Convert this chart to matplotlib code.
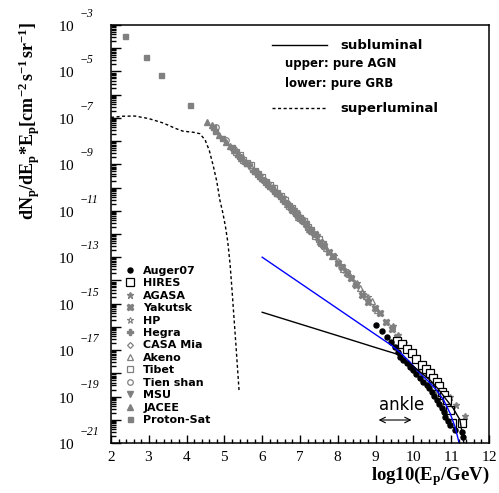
import numpy as np
import matplotlib
matplotlib.use('Agg')
import matplotlib.pyplot as plt
import matplotlib.transforms as mtransforms
from matplotlib.ticker import FixedLocator, FuncFormatter, MultipleLocator, NullFormatter

plt.rcParams['mathtext.fontset'] = 'custom'
plt.rcParams['mathtext.rm'] = 'Liberation Serif'
plt.rcParams['mathtext.it'] = 'Liberation Serif:italic'
plt.rcParams['mathtext.bf'] = 'Liberation Serif:bold'

# ---------------- data (log10 E [GeV], log10 flux) ----------------
proton_sat_x = [2.37, 2.92, 3.32, 4.10, 4.71, 4.75, 4.93, 5.19]
proton_sat_y = [-3.46, -4.39, -5.16, -6.46, -7.38, -7.55, -7.85, -8.24]

jacee_x = [4.55, 4.66, 4.87, 5.05, 5.15, 5.25, 5.35, 5.45]
jacee_y = [-7.16, -7.30, -7.74, -8.05, -8.20, -8.38, -8.52, -8.72]

tienshan_x = [4.78, 5.04, 5.25, 5.45, 5.65, 5.85, 6.05, 6.25, 6.45, 6.65, 6.85, 7.05, 7.25]
tienshan_y = [-7.38, -7.95, -8.36, -8.70, -9.00, -9.38, -9.66, -10.05, -10.32, -10.66,
              -11.05, -11.38, -11.78]

msu_x = [5.80, 5.95, 6.10, 6.25, 6.40, 6.55, 6.70, 6.85, 7.00, 7.15, 7.30, 7.45]
msu_y = [-9.34, -9.55, -9.80, -10.02, -10.28, -10.50, -10.82, -11.00, -11.34, -11.55,
         -11.90, -12.12]

tibet_x = [5.3, 5.4, 5.5, 5.6, 5.7, 5.8, 5.9, 6.0, 6.1, 6.2, 6.3, 6.4, 6.5, 6.6, 6.7, 6.8,
           6.9, 7.0, 7.1, 7.2, 7.3, 7.4, 7.5, 7.6]
tibet_y = [-8.45, -8.58, -8.80, -8.93, -9.05, -9.29, -9.42, -9.53, -9.77, -9.90, -10.02,
           -10.25, -10.36, -10.55, -10.78, -10.90, -11.08, -11.32, -11.44, -11.70, -11.83,
           -12.08, -12.20, -12.45]

akeno_x = [6.50, 6.65, 6.80, 6.95, 7.10, 7.25, 7.40, 7.55, 7.70, 7.85, 8.00, 8.15, 8.30,
           8.45, 8.60, 8.75, 8.90, 9.05]
akeno_y = [-10.36, -10.70, -10.90, -11.25, -11.44, -11.80, -12.02, -12.38, -12.60, -12.95,
           -13.16, -13.52, -13.74, -14.10, -14.32, -14.68, -14.90, -15.26]

casa_x = [5.40, 5.55, 5.70, 5.85, 6.00, 6.15, 6.30, 6.45, 6.60, 6.75, 6.90, 7.05, 7.20,
          7.35]
casa_y = [-8.70, -8.90, -9.16, -9.34, -9.66, -9.82, -10.12, -10.32, -10.62, -10.82, -11.18,
          -11.38, -11.72, -11.95]

hegra_x = [5.25, 5.35, 5.45, 5.55, 5.65, 5.75, 5.85, 5.95, 6.05, 6.15, 6.25, 6.35, 6.45,
           6.55, 6.65, 6.75, 6.85, 6.95, 7.05]
hegra_y = [-8.40, -8.63, -8.74, -8.96, -9.05, -9.28, -9.38, -9.60, -9.70, -9.92, -10.02,
           -10.24, -10.33, -10.56, -10.66, -10.92, -11.02, -11.28, -11.40]

hp_x = [7.00, 7.15, 7.30, 7.45, 7.60, 7.75, 7.90, 8.05, 8.20, 8.35, 8.50, 8.65, 8.80]
hp_y = [-11.22, -11.58, -11.80, -12.15, -12.40, -12.76, -12.96, -13.34, -13.55, -13.90,
        -14.12, -14.50, -14.72]

yakutsk_x = [6.80, 6.92, 7.04, 7.16, 7.28, 7.40, 7.52, 7.64, 7.76, 7.88, 8.00, 8.12, 8.24,
             8.36, 8.48, 8.63, 8.81, 8.98, 9.12, 9.28, 9.43, 9.56]
yakutsk_y = [-10.98, -11.12, -11.40, -11.58, -11.85, -12.02, -12.33, -12.50, -12.78, -12.96,
             -13.26, -13.42, -13.70, -13.88, -14.18, -14.63, -14.92, -15.20, -15.42, -15.78,
             -16.09, -16.45]

agasa_x = [9.45, 9.60, 9.75, 9.90, 10.05, 10.20, 10.35, 10.50, 10.65, 10.80, 10.97, 11.14,
           11.37]
agasa_y = [-15.95, -16.35, -16.70, -17.05, -17.40, -17.72, -18.05, -18.38, -18.70, -19.05,
           -19.00, -19.37, -19.85]

hires_x = [9.56, 9.69, 9.82, 9.95, 10.08, 10.22, 10.33, 10.44, 10.53, 10.62, 10.69, 10.75,
           10.82, 10.88, 10.97, 11.01, 11.28]
hires_y = [-16.60, -16.74, -16.95, -17.14, -17.40, -17.64, -17.82, -18.00, -18.18, -18.36,
           -18.55, -18.79, -18.95, -19.15, -19.58, -20.12, -20.15]

auger_x = [9.02, 9.16, 9.29, 9.40, 9.51, 9.58, 9.65, 9.73, 9.82, 9.91, 10.00, 10.08, 10.17,
           10.26, 10.35, 10.42, 10.48, 10.55, 10.62, 10.68, 10.75, 10.80, 10.84, 10.91, 10.97,
           11.10, 11.28, 11.32]
auger_y = [-15.92, -16.16, -16.42, -16.65, -16.85, -17.07, -17.28, -17.42, -17.57, -17.72,
           -17.86, -18.03, -18.21, -18.36, -18.50, -18.63, -18.79, -18.97, -19.15, -19.33,
           -19.51, -19.68, -19.87, -20.05, -20.23, -20.44, -20.51, -20.73]

# model curves
agn_x = [6.0, 7.0, 8.0, 9.0, 9.4, 9.65, 9.9, 10.17, 10.4, 10.61, 10.8, 10.97, 11.1, 11.19, 11.22]
agn_y = [-13.0, -14.11, -15.22, -16.33, -16.77, -17.10, -17.50, -18.00, -18.35, -18.72,
         -19.15, -19.72, -20.30, -20.87, -21.10]

grb_x = [6.0, 7.0, 8.0, 9.0, 9.56, 9.8, 10.0, 10.2, 10.44, 10.66, 10.88, 11.05, 11.23, 11.32, 11.35]
grb_y = [-15.37, -15.875, -16.38, -16.89, -17.17, -17.45, -17.70, -17.97, -18.29, -18.68,
         -19.15, -19.50, -20.00, -20.87, -21.10]

super_x = [2.0, 2.3, 2.63, 3.0, 3.38, 3.7, 3.9, 4.18, 4.35, 4.49, 4.6, 4.71, 4.8, 4.88,
           4.96, 5.03, 5.09, 5.15, 5.21, 5.31, 5.39]
super_y = [-6.98, -6.93, -6.92, -7.03, -7.22, -7.45, -7.57, -7.62, -7.68, -7.95, -8.40,
           -9.10, -9.75, -10.54, -11.10, -11.70, -12.35, -13.30, -14.60, -16.90, -18.80]

x_ticks = [2, 3, 4, 5, 6, 7, 8, 9, 10, 11, 12]
y_exponents = list(range(-21, -2))
y_labelled = [e for e in y_exponents if e % 2 != 0]

GRAY = '#808080'


def P(v):
    return 10.0 ** np.asarray(v, dtype=float)


fig = plt.figure(figsize=(4.99, 4.93), dpi=100)
ax = fig.add_axes([111 / 499, 50 / 493, 378 / 499, 418 / 493])
ax.set_yscale('log')

h = {}
h['Proton-Sat'], = ax.plot(proton_sat_x, P(proton_sat_y), ls='none', marker='s', ms=3.6,
                           color=GRAY, mec=GRAY)
h['JACEE'], = ax.plot(jacee_x, P(jacee_y), ls='none', marker='^', ms=3.8, color=GRAY, mec=GRAY)
h['Tien shan'], = ax.plot(tienshan_x, P(tienshan_y), ls='none', marker='o', ms=4.0, mfc='none',
                          mec=GRAY, mew=0.9)
h['MSU'], = ax.plot(msu_x, P(msu_y), ls='none', marker='v', ms=3.8, color=GRAY, mec=GRAY)
h['Tibet'], = ax.plot(tibet_x, P(tibet_y), ls='none', marker='s', ms=4.0, mfc='none',
                      mec=GRAY, mew=0.9)
h['Akeno'], = ax.plot(akeno_x, P(akeno_y), ls='none', marker='^', ms=4.2, mfc='none',
                      mec=GRAY, mew=0.9)
h['CASA Mia'], = ax.plot(casa_x, P(casa_y), ls='none', marker='D', ms=3.0, mfc='none',
                         mec=GRAY, mew=0.9)
h['Hegra'], = ax.plot(hegra_x, P(hegra_y), ls='none', marker='P', ms=4.2, color=GRAY, mec=GRAY)
h['HP'], = ax.plot(hp_x, P(hp_y), ls='none', marker='*', ms=5.0, mfc='none', mec=GRAY, mew=0.8)
h['Yakutsk'], = ax.plot(yakutsk_x, P(yakutsk_y), ls='none', marker='X', ms=4.5, color=GRAY,
                        mec=GRAY)
h['AGASA'], = ax.plot(agasa_x, P(agasa_y), ls='none', marker='*', ms=5.0, color=GRAY, mec=GRAY)
h['HIRES'], = ax.plot(hires_x, P(hires_y), ls='none', marker='s', ms=5.6, mfc='white',
                      mec='black', mew=0.9)
h['Auger07'], = ax.plot(auger_x, P(auger_y), ls='none', marker='o', ms=3.6, color='black')

ax.plot(agn_x, P(agn_y), color='#0000ff', lw=1.0)
ax.plot(grb_x, P(grb_y), color='black', lw=1.0)
ax.plot(super_x, P(super_y), color='black', lw=1.0, dashes=(2.2, 1.8))

order = ['Auger07', 'HIRES', 'AGASA', 'Yakutsk', 'HP', 'Hegra', 'CASA Mia', 'Akeno', 'Tibet',
         'Tien shan', 'MSU', 'JACEE', 'Proton-Sat']
ax.legend([h[k] for k in order], order, loc='upper left', bbox_to_anchor=(0.0365, 0.424),
          frameon=False, prop={'family': 'DejaVu Sans', 'weight': 'bold', 'size': 8},
          handlelength=0.95, handletextpad=0.7, labelspacing=0.22, borderpad=0,
          borderaxespad=0)

# upper-right annotations
ax.plot([0.425, 0.571], [0.952, 0.952], color='black', lw=1.0, transform=ax.transAxes)
ax.plot([0.425, 0.571], [0.801, 0.801], color='black', lw=1.0, dashes=(2.2, 1.8),
        transform=ax.transAxes)
tfont = dict(family='DejaVu Sans', weight='bold', size=9.5)
ax.text(0.606, 0.952, 'subluminal', transform=ax.transAxes, va='center', ha='left', **tfont)
ax.text(0.46, 0.909, 'upper: pure AGN', transform=ax.transAxes, va='center', ha='left',
        family='DejaVu Sans', weight='bold', size=8.5)
ax.text(0.46, 0.861, 'lower: pure GRB', transform=ax.transAxes, va='center', ha='left',
        family='DejaVu Sans', weight='bold', size=8.5)
ax.text(0.606, 0.801, 'superluminal', transform=ax.transAxes, va='center', ha='left', **tfont)

# ankle
ax.text(9.69, 10 ** -19.37, 'ankle', ha='center', va='center', family='DejaVu Sans', size=12)
ax.annotate('', xy=(9.08, 10 ** -20.01), xytext=(9.95, 10 ** -20.01),
            arrowprops=dict(arrowstyle='<->', lw=0.8, color='black', shrinkA=0, shrinkB=0))

# axes & ticks
ax.set_xlim(2, 12)
ax.set_ylim(1e-21, 1e-3)
ax.xaxis.set_major_locator(FixedLocator(x_ticks))
ax.xaxis.set_minor_locator(MultipleLocator(0.2))
ax.xaxis.set_major_formatter(FuncFormatter(lambda v, p: r'$\mathit{%d}$' % round(v)))
ax.yaxis.set_major_locator(FixedLocator([10.0 ** e for e in y_exponents]))
ax.yaxis.set_minor_locator(FixedLocator([m * 10.0 ** e for e in y_exponents[:-1] for m in range(2, 10)]))
ax.yaxis.set_minor_formatter(NullFormatter())


def yfmt(v, p):
    e = int(round(np.log10(v)))
    return r'$\mathit{10}$' if e in y_labelled else ''


ax.yaxis.set_major_formatter(FuncFormatter(yfmt))
ax.tick_params(axis='both', which='both', direction='in', top=False, right=False, width=1.0)
ax.tick_params(axis='y', which='major', length=7, labelsize=11, pad=26)
ax.tick_params(axis='y', which='minor', length=3.5)
ax.tick_params(axis='x', which='major', length=6, labelsize=11, pad=4)
ax.tick_params(axis='x', which='minor', length=3)
for s in ax.spines.values():
    s.set_linewidth(1.1)

# exponents of the y tick labels (raised, as in the original)
exp_trans = mtransforms.offset_copy(
    mtransforms.blended_transform_factory(ax.transAxes, ax.transData),
    fig=fig, x=0, y=8, units='points')
for e in y_labelled:
    ax.text((80 - 111) / 378, 10.0 ** e, '\u2212%d' % abs(e), transform=exp_trans,
            ha='left', va='center', family='Liberation Serif', style='italic', size=8.5,
            clip_on=False)

fig.text(29 / 499, 1 - 22 / 493,
         r'$\mathbf{dN_p/dE_p{*}E_p[cm^{-2}\,s^{-1}\,sr^{-1}]}$',
         rotation=90, ha='center', va='top', size=13)
fig.text(489 / 499, 1 - 480 / 493, r'$\mathbf{log10(E_p/GeV)}$', ha='right', va='baseline',
         size=13.5)

fig.savefig('out.png', dpi=100)
